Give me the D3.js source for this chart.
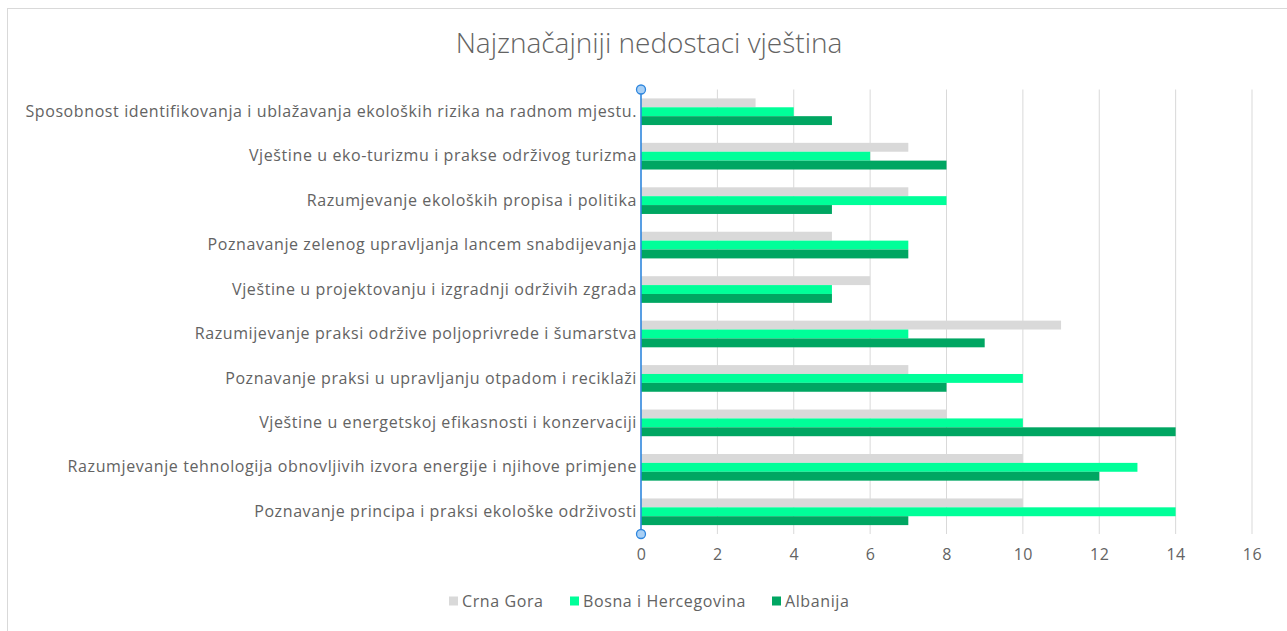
<!DOCTYPE html>
<html>
<head>
<meta charset="utf-8">
<script src="https://cdn.jsdelivr.net/npm/d3@7"></script>
<style>
  html, body { margin: 0; padding: 0; background: #fff; }
  svg { display: block; }
  text { font-family: "Open Sans", "Segoe UI", sans-serif; fill: #636363; }
</style>
</head>
<body>
<svg id="chart" width="1287" height="631"></svg>
<script>
const categories = [
  "Sposobnost identifikovanja i ublažavanja ekoloških rizika na radnom mjestu.",
  "Vještine u eko-turizmu i prakse održivog turizma",
  "Razumjevanje ekoloških propisa i politika",
  "Poznavanje zelenog upravljanja lancem snabdijevanja",
  "Vještine u projektovanju i izgradnji održivih zgrada",
  "Razumijevanje praksi održive poljoprivrede i šumarstva",
  "Poznavanje praksi u upravljanju otpadom i reciklaži",
  "Vještine u energetskoj efikasnosti i konzervaciji",
  "Razumjevanje tehnologija obnovljivih izvora energije i njihove primjene",
  "Poznavanje principa i praksi ekološke održivosti"
];
const seriesNames = ["Crna Gora", "Bosna i Hercegovina", "Albanija"];
const crnaGora = [3, 7, 7, 5, 6, 11, 7, 8, 10, 10];
const bosnaIHercegovina = [4, 6, 8, 7, 5, 7, 10, 10, 13, 14];
const albanija = [5, 8, 5, 7, 5, 9, 8, 14, 12, 7];
const xTicks = [0, 2, 4, 6, 8, 10, 12, 14, 16];
const chartTitle = "Najznačajniji nedostaci vještina";

const colors = ["#d9d9d9", "#00ff99", "#00a662"];
const seriesValues = [crnaGora, bosnaIHercegovina, albanija];

const svg = d3.select("#chart");

// chart border
svg.append("rect")
  .attr("x", 7.5).attr("y", 8.5)
  .attr("width", 1300).attr("height", 640)
  .attr("fill", "#fff").attr("stroke", "#d9d9d9").attr("stroke-width", 1);

// title
svg.append("text")
  .attr("x", 649).attr("y", 53)
  .attr("text-anchor", "middle")
  .style("font-size", "28px")
  .style("font-weight", 300)
  .attr("fill", "#595959")
  .text(chartTitle);

const pLeft = 641, pRight = 1252, pTop = 89.5, pBottom = 534;

const x = d3.scaleLinear().domain([0, 16]).range([pLeft, pRight]);
const y = d3.scaleBand().domain(categories).range([pTop, pBottom]).paddingInner(0.4).paddingOuter(0.2);
const ySub = d3.scaleBand().domain(seriesNames).range([0, y.bandwidth()]);

// gridlines
svg.append("g")
  .selectAll("line")
  .data(xTicks.filter(d => d > 0))
  .join("line")
  .attr("x1", d => x(d)).attr("x2", d => x(d))
  .attr("y1", pTop).attr("y2", pBottom)
  .attr("stroke", "#d9d9d9").attr("stroke-width", 1);

// bars
const rows = categories.map((c, i) => ({ c, vals: seriesNames.map((s, j) => ({ s, v: seriesValues[j][i], color: colors[j] })) }));
const groups = svg.append("g").selectAll("g")
  .data(rows).join("g")
  .attr("transform", d => `translate(0,${y(d.c)})`);
groups.selectAll("rect")
  .data(d => d.vals).join("rect")
  .attr("x", x(0))
  .attr("y", d => ySub(d.s))
  .attr("width", d => x(d.v) - x(0))
  .attr("height", ySub.bandwidth())
  .attr("fill", d => d.color);

const textStyle = sel => sel
  .style("font-size", "16px")
  .style("letter-spacing", "0.6px")
  .style("font-family", "\"Open Sans\", sans-serif")
  .attr("fill", "#636363");

// x axis tick labels
const xAxis = d3.axisBottom(x).tickValues(xTicks).tickSize(0).tickPadding(15);
const xg = svg.append("g").attr("transform", `translate(0,${pBottom})`).call(xAxis);
xg.select(".domain").remove();
xg.selectAll("text").call(textStyle);

// y axis labels
const yAxis = d3.axisLeft(y).tickSize(0).tickPadding(4);
const yg = svg.append("g").attr("transform", `translate(${pLeft},0)`).call(yAxis);
yg.select(".domain").remove();
yg.selectAll("text").call(textStyle);

// selected axis line with handles
svg.append("line")
  .attr("x1", x(0)).attr("x2", x(0))
  .attr("y1", pTop).attr("y2", pBottom)
  .attr("stroke", "#2e86de").attr("stroke-width", 1.6);
svg.selectAll("circle.handle")
  .data([pTop, pBottom]).join("circle")
  .attr("class", "handle")
  .attr("cx", x(0)).attr("cy", d => d).attr("r", 4.5)
  .attr("fill", "#a9d0f5").attr("stroke", "#2e86de").attr("stroke-width", 1.3);

// legend
const legendItems = [
  { name: seriesNames[0], color: colors[0], x: 449 },
  { name: seriesNames[1], color: colors[1], x: 570 },
  { name: seriesNames[2], color: colors[2], x: 772 }
];
const lg = svg.append("g").selectAll("g").data(legendItems).join("g")
  .attr("transform", d => `translate(${d.x},601)`);
lg.append("rect").attr("x", 0).attr("y", -4.5).attr("width", 9).attr("height", 9).attr("fill", d => d.color);
lg.append("text").attr("x", 13).attr("y", 0).attr("dy", "0.35em").call(textStyle).text(d => d.name);
</script>
</body>
</html>
